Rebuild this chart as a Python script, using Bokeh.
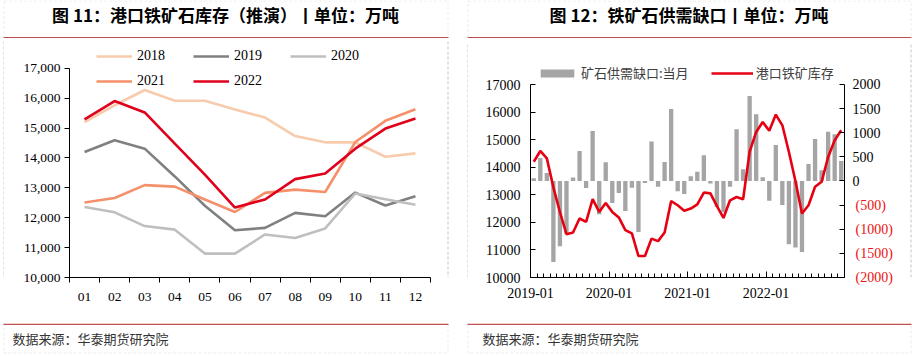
from bokeh.plotting import figure
from bokeh.layouts import row, column
from bokeh.models import (Range1d, LinearAxis, FixedTicker, NumeralTickFormatter,
                          Legend, LegendItem, Label, BoxAnnotation, Span)
from bokeh.embed import file_html
from bokeh.resources import INLINE

# ---------------- data ----------------
months = ["01", "02", "03", "04", "05", "06", "07", "08", "09", "10", "11", "12"]
inv_2018 = [15200, 15760, 16270, 15910, 15910, 15620, 15350, 14730, 14520, 14520, 14040, 14150]
inv_2019 = [14200, 14590, 14310, 13380, 12400, 11580, 11660, 12160, 12050, 12840, 12410, 12720]
inv_2020 = [12360, 12180, 11720, 11600, 10800, 10800, 11440, 11320, 11640, 12810, 12620, 12430]
inv_2021 = [12510, 12660, 13090, 13040, 12610, 12190, 12830, 12940, 12860, 14530, 15240, 15630]
inv_2022 = [15290, 15900, 15520, 14480, 13440, 12340, 12610, 13290, 13480, 14310, 14980, 15320]
years = ["2018", "2019", "2020", "2021", "2022"]
left_ticks = [10000, 11000, 12000, 13000, 14000, 15000, 16000, 17000]

date_labels = ["2019-01", "2020-01", "2021-01", "2022-01"]
port_inventory = [14200, 14590, 14320, 13270, 12370, 11570, 11630, 12140, 12020, 12840, 12380, 12700,
                  12380, 12180, 11720, 11600, 10780, 10780, 11410, 11320, 11630, 12770, 12620, 12420,
                  12500, 12650, 13080, 13050, 12590, 12160, 12800, 12920, 12840, 14560, 15280, 15640,
                  15320, 15910, 15520, 14550, 13500, 12320, 12620, 13290, 13470, 14370, 14980, 15340]
supply_gap = [55, 475, 165, -1680, -1350, -1100, 75, 620, -145, 1035, -690, 390,
              -455, -250, -620, -140, -1055, -40, 820, -120, 395, 1490, -210, -270,
              100, 190, 535, -50, -540, -650, -120, 1075, 245, 1760, 1385, 80,
              -410, 745, -500, -1310, -1380, -1470, 350, 868, 225, 1020, 970, 415]
inv_ticks = [10000, 11000, 12000, 13000, 14000, 15000, 16000, 17000]
gap_ticks = [-2000, -1500, -1000, -500, 0, 500, 1000, 1500, 2000]

title1 = "图 11：港口铁矿石库存（推演）丨单位：万吨"
title2 = "图 12：铁矿石供需缺口丨单位：万吨"
source_text = "数据来源：华泰期货研究院"
gap_name = "矿石供需缺口:当月"
inv_name = "港口铁矿库存"

SERIF = "Liberation Serif"
CJK = "Noto Sans CJK SC"
DECO_RED = "#C0504D"
BORDER = "#C4C4C4"
W = 457
HEAD_H, CHART_H, FOOT_H = 38, 285, 33


def blank_fig(w, h):
    f = figure(width=w, height=h, x_range=Range1d(0, w), y_range=Range1d(0, h),
               output_backend="svg", toolbar_location=None,
               x_axis_location=None, y_axis_location=None,
               min_border=0, min_border_left=0, min_border_right=0,
               min_border_top=0, min_border_bottom=0)
    f.grid.visible = False
    f.outline_line_color = None
    return f


def header(title, title_cx, bl, br):
    h = blank_fig(W, HEAD_H)
    h.add_layout(BoxAnnotation(left=bl + 0.5, right=br + 0.5, bottom=-10, top=HEAD_H - 0.5,
                               fill_color=None, fill_alpha=0, line_color=BORDER,
                               line_dash="3 2", line_width=1))
    h.add_layout(BoxAnnotation(left=bl, right=br + 1, bottom=0, top=1.5,
                               fill_color=DECO_RED, fill_alpha=1, line_color=None))
    h.add_layout(Label(x=title_cx, y=HEAD_H - 14, text=title, text_align="center",
                       text_baseline="middle", text_font=CJK, text_font_style="bold",
                       text_font_size="17px", text_color="#000000"))
    return h


def footer(text_x, bl, br):
    f = blank_fig(W, FOOT_H)
    f.add_layout(BoxAnnotation(left=bl + 0.5, right=br + 0.5, bottom=3.5, top=FOOT_H + 10,
                               fill_color=None, fill_alpha=0, line_color=BORDER,
                               line_dash="3 2", line_width=1))
    f.add_layout(BoxAnnotation(left=bl, right=br + 1, bottom=FOOT_H - 1.5, top=FOOT_H,
                               fill_color=DECO_RED, fill_alpha=1, line_color=None))
    f.add_layout(Label(x=text_x, y=FOOT_H - 15, text=source_text, text_align="left",
                       text_baseline="middle", text_font=CJK, text_font_size="13px",
                       text_color="#333333"))
    return f


def strip(w, line_x):
    s = blank_fig(w, CHART_H)
    s.add_layout(Span(location=line_x, dimension="height", line_color=BORDER,
                      line_dash="3 2", line_width=1))
    return s


# ---------------- left panel ----------------
p1 = figure(width=440, height=CHART_H, x_range=Range1d(0, 12), y_range=Range1d(10000, 17893),
            output_backend="svg", toolbar_location=None,
            min_border_left=65, min_border_right=14, min_border_top=3, min_border_bottom=46)
p1.xgrid.visible = False
p1.ygrid.visible = False
p1.outline_line_color = None

xs = [i + 0.5 for i in range(len(months))]
colors = ["#F8CBAD", "#808080", "#BFBFBF", "#F4906B", "#E0001B"]
series = [inv_2018, inv_2019, inv_2020, inv_2021, inv_2022]
renderers = [p1.line(xs, yv, line_color=c, line_width=2.6) for yv, c in zip(series, colors)]

yax = p1.yaxis[0]
yax.ticker = FixedTicker(ticks=left_ticks)
yax.formatter = NumeralTickFormatter(format="0,0")
yax.bounds = (10000, 17000)
yax.major_tick_out = 5
yax.major_tick_in = 0
yax.minor_tick_line_color = None
yax.major_label_standoff = 4
yax.major_label_text_font = SERIF
yax.major_label_text_font_size = "13.5px"
yax.major_label_text_color = "#000000"
yax.axis_line_color = "#000000"

xax = p1.xaxis[0]
xax.ticker = FixedTicker(ticks=xs, minor_ticks=list(range(13)))
xax.major_label_overrides = {x: m for x, m in zip(xs, months)}
xax.major_tick_in = 0
xax.major_tick_out = 0
xax.minor_tick_in = 0
xax.minor_tick_out = 5
xax.minor_tick_line_color = "#000000"
xax.major_label_standoff = 10
xax.major_label_text_font = SERIF
xax.major_label_text_font_size = "13.5px"
xax.major_label_text_color = "#000000"
xax.axis_line_color = "#000000"

leg1 = Legend(items=[LegendItem(label=y, renderers=[r]) for y, r in zip(years, renderers)],
              location=(27, 186), orientation="horizontal", ncols=3,
              glyph_width=36, glyph_height=20, label_height=20, label_width=51,
              spacing=5, label_standoff=5, padding=0, margin=0,
              border_line_color=None, background_fill_alpha=0,
              label_text_font=SERIF, label_text_font_size="14px", label_text_color="#000000")
p1.add_layout(leg1)

panel1 = column(header(title1, 225, 3, 447),
                row(strip(4, 3.5), p1, strip(13, 3.5)),
                footer(12, 3, 447))

# ---------------- right panel ----------------
n = len(port_inventory)
p2 = figure(width=441, height=CHART_H, x_range=Range1d(0, n), y_range=Range1d(10000, 18451),
            output_backend="svg", toolbar_location=None,
            min_border_left=62, min_border_right=65, min_border_top=6, min_border_bottom=46)
p2.extra_y_ranges = {"gap": Range1d(-2000, 2829)}
p2.xgrid.visible = False
p2.ygrid.visible = False
p2.outline_line_color = None

xm = [i + 0.5 for i in range(n)]
bars = p2.vbar(x=xm, top=supply_gap, bottom=0, width=0.66, y_range_name="gap",
               fill_color="#A5A5A5", line_color=None)
inv_line = p2.line(xm, port_inventory, line_color="#E60012", line_width=2.6)

ay = p2.yaxis[0]
ay.ticker = FixedTicker(ticks=inv_ticks)
ay.major_label_overrides = {t: str(t) for t in inv_ticks}
ay.bounds = (10000, 17000)
ay.major_tick_in = 5
ay.major_tick_out = 0
ay.minor_tick_line_color = None
ay.major_label_standoff = 10
ay.major_label_text_font = SERIF
ay.major_label_text_font_size = "14px"
ay.major_label_text_color = "#000000"
ay.axis_line_color = "#000000"

ax2 = p2.xaxis[0]
major_x = [0, 12, 24, 36]
ax2.ticker = FixedTicker(ticks=major_x, minor_ticks=list(range(n + 1)))
ax2.major_label_overrides = {t: d for t, d in zip(major_x, date_labels)}
ax2.major_tick_in = 6
ax2.major_tick_out = 0
ax2.minor_tick_in = 4
ax2.minor_tick_out = 0
ax2.minor_tick_line_color = "#000000"
ax2.major_label_standoff = 10
ax2.major_label_text_font = SERIF
ax2.major_label_text_font_size = "14px"
ax2.major_label_text_color = "#000000"
ax2.axis_line_color = "#000000"

r_pos = LinearAxis(y_range_name="gap")
r_pos.ticker = FixedTicker(ticks=gap_ticks)
r_pos.major_label_overrides = {t: (str(t) if t >= 0 else "") for t in gap_ticks}
r_pos.bounds = (-2000, 2000)
r_pos.major_tick_in = 5
r_pos.major_tick_out = 0
r_pos.minor_tick_line_color = None
r_pos.major_label_standoff = 8
r_pos.major_label_text_font = SERIF
r_pos.major_label_text_font_size = "14px"
r_pos.major_label_text_color = "#000000"
r_pos.axis_line_color = "#000000"
p2.add_layout(r_pos, "right")

r_neg = LinearAxis(y_range_name="gap")
r_neg.ticker = FixedTicker(ticks=gap_ticks)
r_neg.major_label_overrides = {t: ("(%d)" % abs(t) if t < 0 else "") for t in gap_ticks}
r_neg.major_tick_in = 0
r_neg.major_tick_out = 0
r_neg.major_tick_line_color = None
r_neg.minor_tick_line_color = None
r_neg.axis_line_color = None
r_neg.major_label_standoff = -28
r_neg.major_label_text_font = SERIF
r_neg.major_label_text_font_size = "14px"
r_neg.major_label_text_color = "#EE1111"
p2.add_layout(r_neg, "right")

leg2 = Legend(items=[LegendItem(label=gap_name, renderers=[bars]),
                     LegendItem(label=inv_name, renderers=[inv_line])],
              location=(6, 195), orientation="horizontal",
              glyph_width=42, glyph_height=10, label_height=10,
              spacing=22, label_standoff=3, padding=0, margin=0,
              border_line_color=None, background_fill_alpha=0,
              label_text_font=CJK, label_text_font_size="13px", label_text_color="#404040")
p2.add_layout(leg2)

panel2 = column(header(title2, 231.5, 10, 453),
                row(strip(11, 10.5), p2, strip(5, 1.5)),
                footer(25, 10, 453))

layout = row(panel1, panel2)
open("out.html", "w").write(file_html(layout, INLINE))
